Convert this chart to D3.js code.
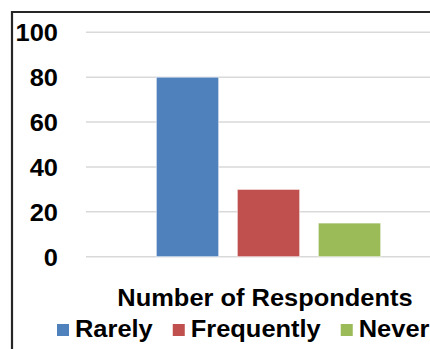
<!DOCTYPE html>
<html>
<head>
<meta charset="utf-8">
<script src="https://cdn.jsdelivr.net/npm/d3@7"></script>
<style>
  html, body { margin: 0; padding: 0; background: #fff; }
  svg { display: block; }
  text { font-family: "Liberation Sans", Arial, sans-serif; font-weight: bold; fill: #000; }
</style>
</head>
<body>
<script>
// Survey answers: how often respondents do it
const categories = ["Rarely", "Frequently", "Never"];
const respondents = [80, 30, 15];
const colors = ["#4F81BD", "#C0504D", "#9BBB59"];
const yTicks = [0, 20, 40, 60, 80, 100];
const axisTitle = "Number of Respondents";

const W = 430, H = 349;
const FS = 24, SX = 1.06; // font size and slight horizontal stretch of labels
const svg = d3.select("body").append("svg").attr("width", W).attr("height", H);

// outer frame (left and top edges visible)
svg.append("path")
  .attr("d", `M12,${H + 2} L12,12 L${W + 2},12`)
  .attr("fill", "none").attr("stroke", "#262626").attr("stroke-width", 2.2);

const y = d3.scaleLinear().domain([0, 100]).range([256.7, 32.3]);
const x = d3.scaleBand().domain(categories).range([147, 390])
  .paddingInner(0.23).paddingOuter(0.115);

// gridlines
svg.append("g").selectAll("line").data(yTicks).join("line")
  .attr("x1", 86).attr("x2", W)
  .attr("y1", d => y(d)).attr("y2", d => y(d))
  .attr("stroke", "#d9d9d9").attr("stroke-width", 1.5);

// y tick labels via axis generator
const yAxis = svg.append("g").attr("transform", "translate(58,0)")
  .call(d3.axisLeft(y).tickValues(yTicks).tickSize(0).tickPadding(0));
yAxis.select(".domain").remove();
yAxis.selectAll("text")
  .attr("x", 0)
  .attr("font-size", FS).attr("font-family", null)
  .attr("dy", "0.36em").attr("transform", `scale(${SX},1)`)
  .style("fill", "#000");

// bars
svg.append("g").selectAll("rect").data(categories).join("rect")
  .attr("x", d => x(d))
  .attr("width", x.bandwidth())
  .attr("y", (d, i) => y(respondents[i]))
  .attr("height", (d, i) => y(0) - y(respondents[i]))
  .attr("fill", (d, i) => colors[i])
  .attr("stroke", "#ffffff").attr("stroke-opacity", 0.6).attr("stroke-width", 1);

// axis title
svg.append("text")
  .attr("transform", `translate(265,306) scale(${SX},1)`)
  .attr("text-anchor", "middle").attr("font-size", FS)
  .text(axisTitle);

// legend
let lx = 57;
categories.forEach((c, i) => {
  svg.append("rect").attr("x", lx).attr("y", 324).attr("width", 12).attr("height", 12)
    .attr("fill", colors[i]);
  const t = svg.append("text")
    .attr("transform", `translate(${lx + 18},337) scale(${SX},1)`)
    .attr("font-size", FS).text(c);
  lx += 18 + t.node().getComputedTextLength() * SX + 20;
});
</script>
</body>
</html>
